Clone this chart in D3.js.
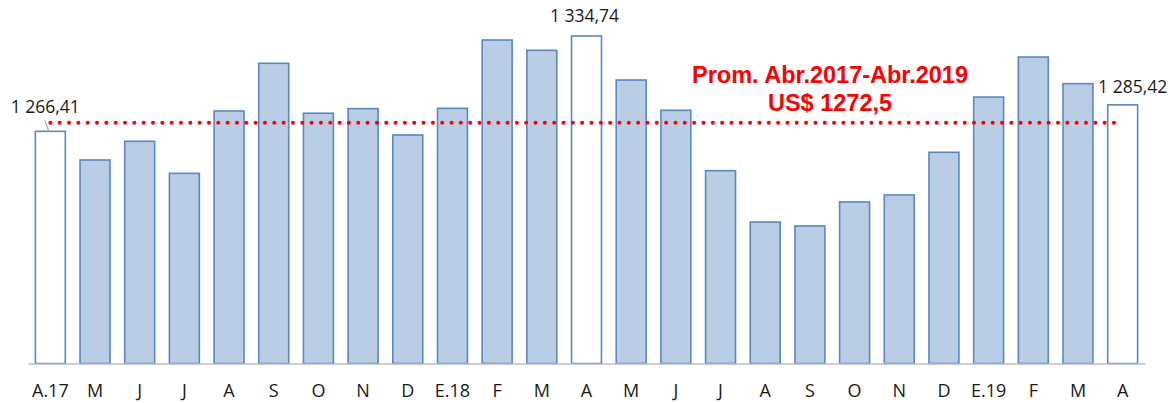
<!DOCTYPE html>
<html>
<head>
  <meta charset="utf-8">
  <title>precio</title>
  <style>
    body{ margin:0; background:#fff; }
    .tick-label{ font-family:"Open Sans", sans-serif; font-size:18px; fill:#1a1a1a; text-anchor:middle; }
    .val-label{ font-family:"Open Sans", sans-serif; font-size:17.5px; fill:#1a1a1a; text-anchor:middle; }
    .prom{ font-family:"Liberation Sans", Arial, sans-serif; font-weight:bold; font-size:23.5px; fill:#ff0000; text-anchor:middle; }
  </style>
  <script src="https://d3js.org/d3.v7.min.js"></script>
</head>
<body>
  <script>
    // meses abr.2017 - abr.2019
    var months = ["A.17","M","J","J","A","S","O","N","D","E.18","F","M","A","M","J","J","A","S","O","N","D","E.19","F","M","A"];
    var prices = [1266.41,1245.9,1259.3,1236.3,1281.0,1315.2,1279.4,1282.7,1263.8,1282.9,1331.9,1324.5,1334.74,
                  1303.2,1281.5,1238.2,1201.4,1198.6,1215.8,1220.8,1251.4,1291.0,1319.7,1300.6,1285.42];
    // barras resaltadas (blancas) con etiqueta
    var highlighted = [0, 12, 24];
    var labelTexts = ["1 266,41","1 334,74","1 285,42"];
    var average = 1272.5;
    var promLines = ["Prom. Abr.2017-Abr.2019","US$ 1272,5"];

    var width = 1176, height = 403;
    var svg = d3.select('body').append('svg')
      .attr('width', width)
      .attr('height', height);

    var x = d3.scaleBand()
      .domain(d3.range(months.length))
      .range([28, 1145])
      .paddingInner(0.33)
      .paddingOuter(0.165);

    var y = d3.scaleLinear()
      .domain([1100, 1350])
      .range([363.5, 14.75]);

    // barras
    svg.selectAll('rect.bar')
      .data(prices)
      .enter()
      .append('rect')
      .attr('class', 'bar')
      .attr('x', (d, i) => x(i))
      .attr('y', d => y(d))
      .attr('width', x.bandwidth())
      .attr('height', d => y(1100) - y(d))
      .attr('fill', (d, i) => highlighted.indexOf(i) >= 0 ? '#ffffff' : '#b9cde5')
      .attr('stroke', '#5a87c5')
      .attr('stroke-width', 1.6);

    // eje x
    var xAxis = d3.axisBottom(x).tickSize(0).tickFormat(i => months[i]);
    var gx = svg.append('g')
      .attr('transform', 'translate(0,' + y(1100) + ')')
      .call(xAxis);
    gx.select('.domain').attr('stroke', '#bfbfbf').attr('stroke-width', 1.6);
    gx.selectAll('text')
      .attr('class', 'tick-label')
      .attr('y', 33)
      .attr('dy', 0);

    // linea de promedio punteada
    svg.append('line')
      .attr('x1', x(0) + x.bandwidth() / 2)
      .attr('x2', x(months.length - 1) + x.bandwidth() / 2)
      .attr('y1', y(average))
      .attr('y2', y(average))
      .attr('stroke', '#ff0000')
      .attr('stroke-width', 4)
      .attr('stroke-linecap', 'round')
      .attr('stroke-dasharray', '0,9.33');

    // texto promedio
    svg.selectAll('text.prom')
      .data(promLines)
      .enter()
      .append('text')
      .attr('class', 'prom')
      .attr('x', 830)
      .attr('y', (d, i) => 83 + i * 28)
      .text(d => d);

    // etiquetas de valores
    var offsets = [[-5, -18.6], [-2, -14.3], [10, -12.3]];
    highlighted.forEach(function(idx, k) {
      var cx = x(idx) + x.bandwidth() / 2;
      svg.append('text')
        .attr('class', 'val-label')
        .attr('x', cx + offsets[k][0])
        .attr('y', y(prices[idx]) + offsets[k][1])
        .text(labelTexts[k]);
    });
    // linea guia de la primera etiqueta
    svg.append('line')
      .attr('x1', x(0) + x.bandwidth() / 2 - 5.5)
      .attr('y1', y(prices[0]) - 11)
      .attr('x2', x(0) + x.bandwidth() / 2 - 1.5)
      .attr('y2', y(prices[0]))
      .attr('stroke', '#a6a6a6')
      .attr('stroke-width', 1.2);
  </script>
</body>
</html>
